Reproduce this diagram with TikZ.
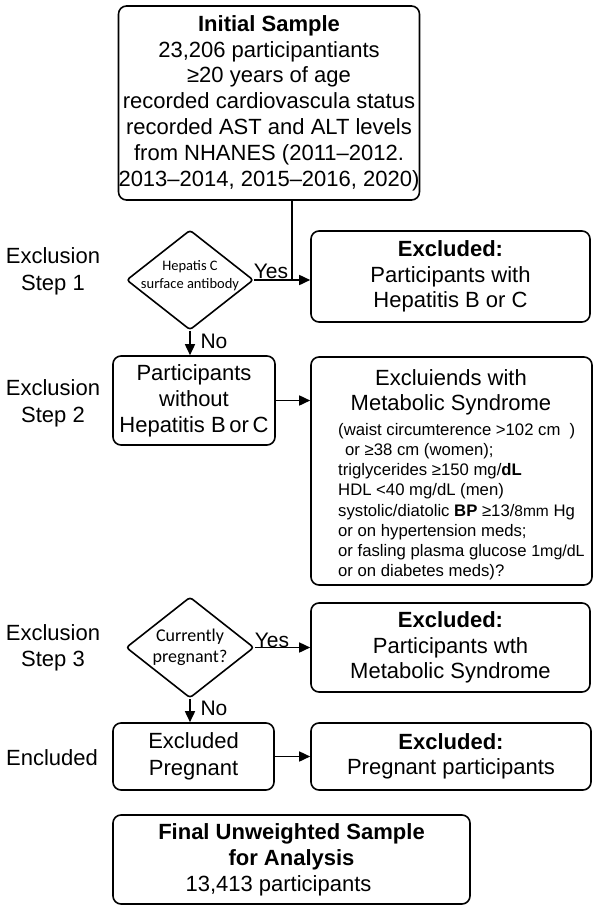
\documentclass[tikz,border=0pt]{standalone}
\usepackage{fontspec}
\setmainfont{Liberation Sans}
\newfontfamily\carlito{Carlito}
\usetikzlibrary{shapes.geometric,arrows.meta}
\newcommand\mainfs{\fontsize{22}{25.5}\selectfont}
\newcommand\smallfs{\fontsize{16.7}{20.2}\selectfont}
\begin{document}
\begin{tikzpicture}[x=1pt,y=-1pt,
  box/.style={draw, line width=1.6pt, rounded corners=8pt, inner sep=0pt, align=center, font=\mainfs},
  dia/.style={draw, diamond, line width=1.6pt, rounded corners=3pt, inner sep=0pt},
  lbl/.style={inner sep=0pt, align=center, font=\mainfs},
  yn/.style={inner sep=0pt, font=\fontsize{21}{24}\selectfont},
  conn/.style={line width=1.6pt},
  arr/.style={line width=1.6pt, -{Triangle[length=11pt,width=10pt]}}
]
\useasboundingbox (0,0) rectangle (595,908);
\fill[white] (0,0) rectangle (595,908);

% top box
\node[box, minimum width=272pt, minimum height=194pt, font=\fontsize{22}{25.8}\selectfont] (top) at (269,103)
  {\textbf{Initial Sample}\\23,206 participantiants\\≥20 years of age\\recorded cardiovascula status\\recorded AST and ALT levels\\from NHANES (2011–2012.\\2013–2014, 2015–2016, 2020)};

% step labels
\node[lbl, font=\fontsize{22}{27}\selectfont] (s1) at (53,271.5) {Exclusion\\Step 1};
\node[lbl, font=\fontsize{22}{27}\selectfont] (s2) at (53,403.5) {Exclusion\\Step 2};
\node[lbl, font=\fontsize{22}{26}\selectfont] (s3) at (53,648) {Exclusion\\Step 3};
\node[lbl] (s4) at (52,758) {Encluded};

% diamond 1
\node[dia, minimum width=127pt, minimum height=100pt] (d1) at (190,280) {};
\node[inner sep=0pt, align=center, font=\carlito\fontsize{14.5}{18}\selectfont] (d1t) at (190,276) {Hepatis C\\surface antibody};

% excluded 1
\node[box, minimum width=279pt, minimum height=91pt] (ex1) at (450.5,276.5)
  {\textbf{Excluded:}\\Participants with\\Hepatitis B or C};

% participants without
\node[box, minimum width=162pt, minimum height=89pt, font=\fontsize{22}{26}\selectfont] (p) at (194,400.5)
  {Participants\\without\\Hepatitis B\,or\,C};

% metabolic box
\node[box, minimum width=281pt, minimum height=228pt] (met) at (451.5,471) {};
\node[lbl, font=\fontsize{22}{25}\selectfont] (mett) at (451,392.5) {Excluiends with\\Metabolic Syndrome};
\node[inner sep=0pt, align=left, font=\smallfs, anchor=north west] (metl) at (338,423)
  {(waist circumterence >102 cm\ \ )\\
   \hspace*{7pt}or ≥38 cm (women);\\
   triglycerides ≥150 mg/\textbf{dL}\\
   HDL <40 mg/dL (men)\\
   systolic/diatolic \textbf{BP} ≥13/{\fontsize{15.5}{20}\selectfont 8mm} Hg\\
   or on hypertension meds;\\
   or fasling plasma glucose {\fontsize{16}{20}\selectfont 1mg/dL}\\
   or on diabetes meds)?};

% diamond 2
\node[dia, minimum width=128pt, minimum height=101pt] (d2) at (190,647.5) {};
\node[inner sep=0pt, align=center, font=\carlito\fontsize{18}{21}\selectfont] (d2t) at (190,647) {Currently\\pregnant?};

% excluded 2
\node[box, minimum width=279pt, minimum height=89pt] (ex2) at (450.5,647.5)
  {\textbf{Excluded:}\\Participants wth\\Metabolic Syndrome};

% excluded pregnant
\node[box, minimum width=161pt, minimum height=67pt, font=\fontsize{22}{27}\selectfont] (ep) at (193.5,756.5)
  {Excluded\\Pregnant};
\node[box, minimum width=280pt, minimum height=67pt] (pp) at (451,756.5)
  {\textbf{Excluded:}\\Pregnant participants};

% final
\node[box, minimum width=357pt, minimum height=89pt, font=\fontsize{22}{26}\selectfont] (fin) at (291.5,859.5)
  {\textbf{Final Unweighted Sample}\\\textbf{for Analysis}\\13,413 participants\hspace*{26pt}};

% connectors
\coordinate (j1) at (292,280);
\draw[conn] (top.south -| j1) -- (j1);
\draw[conn] (d1.east) -- (j1);
\draw[arr] (j1) -- (j1 -| ex1.west);
\draw[arr] (d1.south) -- (d1.south |- p.north);
\draw[arr] (p.east) -- (p.east -| met.west);
\draw[arr] (d2.east) -- (d2.east -| ex2.west);
\draw[arr] (d2.south) -- (d2.south |- ep.north);
\draw[arr] (ep.east) -- (ep.east -| pp.west);

% yes/no labels
\node[yn] (yes1) at (271,271) {Yes};
\node[yn] (no1) at (214,341) {No};
\node[yn] (yes2) at (272,640) {Yes};
\node[yn] (no2) at (214,708) {No};
\end{tikzpicture}
\end{document}
